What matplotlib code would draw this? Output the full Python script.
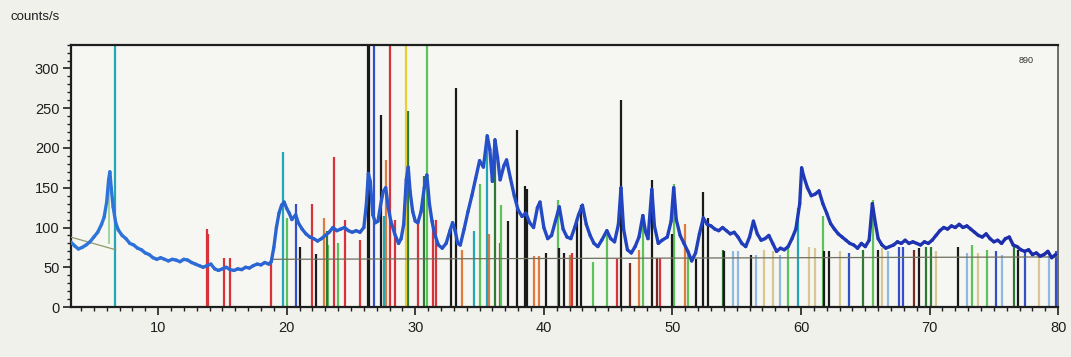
import numpy as np
import matplotlib
matplotlib.use("Agg")
import matplotlib.pyplot as plt
from matplotlib.collections import LineCollection
from matplotlib.colors import LinearSegmentedColormap
from matplotlib.ticker import MultipleLocator

plt.rcParams['font.family'] = ['Liberation Sans', 'DejaVu Sans']

# Measured diffractogram (2theta in degrees, intensity in counts/s)
two_theta = [
    3.2, 3.5, 3.8, 4.1, 4.4, 4.7, 5.0, 5.3, 5.6, 5.8, 6.0, 6.15, 6.25, 6.35, 6.5, 6.7, 6.9,
    7.2, 7.5, 7.8, 8.1, 8.4, 8.7, 9.0, 9.3, 9.6, 9.9, 10.2, 10.5, 10.8, 11.1, 11.4, 11.7,
    12.0, 12.3, 12.6, 12.9, 13.2, 13.5, 13.8, 14.1, 14.4, 14.7, 15.0, 15.3, 15.6, 15.9,
    16.2, 16.5, 16.8, 17.1, 17.4, 17.7, 18.0, 18.3, 18.6, 18.8,
    19.0, 19.2, 19.4, 19.6, 19.8, 20.0, 20.2, 20.4, 20.7, 20.9, 21.2, 21.5, 21.8, 22.1,
    22.4, 22.7, 23.0, 23.3, 23.6, 23.9, 24.2, 24.5, 24.8, 25.1, 25.4, 25.7, 26.0, 26.2,
    26.35, 26.5, 26.7, 26.9, 27.1, 27.3, 27.5, 27.7, 27.9, 28.1, 28.4, 28.7, 28.9, 29.1,
    29.3, 29.45, 29.6, 29.8, 30.0, 30.2, 30.45, 30.7, 30.9, 31.1, 31.3, 31.5, 31.8, 32.1,
    32.4, 32.7, 32.9, 33.1, 33.3, 33.5, 33.8, 34.1, 34.4, 34.7, 35.0, 35.3, 35.6, 35.8,
    36.0, 36.2, 36.4, 36.6, 36.9, 37.1, 37.4, 37.7, 38.0, 38.3, 38.6, 38.9, 39.2, 39.5,
    39.7, 40.0, 40.3, 40.6, 40.9, 41.2, 41.5, 41.8, 42.1, 42.4, 42.7, 43.0, 43.3, 43.6,
    43.9, 44.2, 44.5, 44.9, 45.2, 45.5, 45.8, 46.0, 46.2, 46.5, 46.8, 47.1, 47.4, 47.7,
    47.9, 48.1, 48.4, 48.6, 48.9, 49.2, 49.6, 49.9, 50.1, 50.3, 50.6, 50.9, 51.2, 51.5,
    51.8, 52.1, 52.4, 52.7, 53.0, 53.3, 53.6, 53.9, 54.2, 54.5, 54.8, 55.1, 55.4, 55.7,
    56.0, 56.3, 56.6, 56.9, 57.2, 57.5, 57.8, 58.1, 58.4, 58.7, 59.0, 59.3, 59.6, 59.9,
    60.05, 60.2, 60.5, 60.8, 61.1, 61.4, 61.7, 62.0, 62.3, 62.6, 62.9, 63.2, 63.5, 63.8,
    64.1, 64.4, 64.7, 65.0, 65.3, 65.55, 65.8, 66.0, 66.3, 66.6, 66.9, 67.2, 67.5, 67.8,
    68.1, 68.4, 68.7, 69.0, 69.3, 69.6, 69.9, 70.2, 70.5, 70.8, 71.1, 71.4, 71.7, 72.0,
    72.3, 72.6, 72.9, 73.2, 73.5, 73.8, 74.1, 74.4, 74.7, 75.0, 75.3, 75.6, 75.9, 76.2,
    76.5, 76.8, 77.1, 77.4, 77.7, 78.0, 78.3, 78.6, 78.9, 79.2, 79.5, 79.8,
]
counts = [
    82, 77, 73, 75, 78, 82, 88, 94, 104, 113, 132, 160, 170, 150, 126, 106, 97,
    90, 86, 80, 78, 74, 72, 68, 66, 62, 60, 62, 60, 58, 60, 59, 57,
    60, 59, 56, 54, 52, 50, 52, 54, 48, 46, 48, 50, 47, 46,
    48, 47, 50, 49, 52, 54, 53, 56, 54, 57,
    75, 100, 118, 128, 132, 124, 118, 110, 116, 106, 98, 92, 88, 86,
    83, 86, 90, 94, 100, 96, 98, 100, 96, 94, 96, 94, 100, 130,
    168, 158, 116, 106, 108, 128, 145, 150, 125, 108, 92, 80, 86, 104,
    160, 176, 145, 120, 108, 106, 120, 150, 166, 130, 108, 92, 78, 74,
    80, 96, 106, 96, 80, 78, 98, 120, 140, 162, 184, 176, 215, 198,
    158, 210, 188, 160, 178, 185, 162, 140, 122, 114, 118, 106, 100, 125,
    132, 100, 86, 90, 108, 126, 98, 88, 86, 100, 116, 128, 104, 90,
    80, 76, 84, 96, 86, 82, 104, 150, 98, 72, 68, 76, 88, 115,
    95, 86, 148, 102, 80, 84, 88, 108, 150, 110, 90, 80, 70, 58,
    68, 92, 112, 104, 102, 98, 96, 100, 96, 92, 94, 88, 80, 76,
    88, 108, 92, 84, 86, 90, 80, 70, 74, 72, 76, 86, 98, 130,
    175, 165, 150, 140, 142, 146, 130, 118, 105, 98, 92, 88, 84, 80,
    78, 74, 80, 76, 84, 130, 104, 86, 78, 74, 76, 78, 82, 80,
    84, 80, 82, 80, 78, 82, 80, 84, 90, 96, 100, 98, 102, 100,
    104, 100, 102, 98, 94, 90, 88, 92, 86, 82, 84, 80, 86, 88,
    78, 76, 72, 70, 72, 66, 68, 64, 66, 70, 62, 66,
]

# Fitted background
bg_low_x = [3.2, 6.7]
bg_low_y = [88, 72]
bg_high_x = [18.8, 80.0]
bg_high_y = [60, 63]

# Reference patterns: (positions, relative heights in counts/s)
teal_pos = [6.65, 19.75, 27.6, 34.6, 35.6, 59.8]
teal_h = [330, 195, 115, 95, 218, 125]

red_pos = [13.8, 13.9, 15.1, 15.6, 18.8, 22.0, 23.7, 24.5, 25.7, 28.0, 28.4, 30.2,
           31.4, 31.6, 36.6, 42.2, 45.7, 49.0]
red_h = [98, 92, 62, 62, 56, 130, 189, 110, 84, 330, 110, 106, 110, 110, 80, 68, 60, 62]

orange_pos = [22.9, 27.7, 33.6, 35.7, 39.2, 39.6, 42.0, 47.4, 51.0]
orange_h = [112, 185, 72, 92, 64, 64, 66, 72, 105]

black_pos = [21.0, 22.3, 26.3, 26.4, 27.3, 32.8, 33.2, 37.2, 37.9, 38.5, 38.7, 40.2,
             41.2, 41.6, 42.6, 42.9, 46.0, 48.4, 50.0, 51.8, 52.4, 52.8, 54.0, 56.1,
             61.8, 62.2, 66.0, 69.2, 72.2, 76.9]
black_h = [75, 67, 330, 330, 242, 98, 276, 108, 223, 152, 148, 68,
           74, 68, 112, 128, 260, 160, 92, 60, 145, 112, 70, 65,
           70, 70, 72, 74, 75, 72]

blue_pos = [20.7, 26.8, 63.7, 67.6, 67.9, 75.2, 77.4, 79.8]
blue_h = [130, 330, 68, 75, 75, 70, 68, 70]

green_pos = [20.05, 23.2, 24.0, 30.9, 35.0, 36.7, 41.1, 43.8, 44.9, 47.7, 50.1, 51.2,
             59.0, 61.7, 65.6, 73.3, 74.5]
green_h = [112, 78, 80, 330, 155, 128, 135, 56, 90, 110, 155, 68,
           75, 115, 135, 78, 72]

dkgreen_pos = [23.1, 29.4, 30.7, 36.2, 53.9, 64.8, 69.7, 70.1, 76.6]
dkgreen_h = [96, 246, 165, 212, 72, 72, 76, 76, 78]

yellow_pos = [29.3]
yellow_h = [330]

ltblue_pos = [54.7, 55.1, 56.5, 58.4, 66.8, 72.9, 75.6, 79.3]
ltblue_h = [70, 70, 66, 66, 70, 68, 66, 64]

tan_pos = [57.1, 57.8, 60.6, 61.1, 63.0, 66.3, 70.5, 73.8, 78.5]
tan_h = [72, 70, 76, 74, 70, 74, 70, 68, 66]

brown_pos = [46.7, 48.8, 68.8]
brown_h = [55, 62, 72]

x_ticks = [10, 20, 30, 40, 50, 60, 70, 80]
y_ticks = [0, 50, 100, 150, 200, 250, 300]

paper = '#f1f1ec'
fig = plt.figure(figsize=(10.71, 3.57), dpi=100, facecolor=paper)
ax = fig.add_axes([0.066, 0.140, 0.922, 0.735], facecolor='#f6f6f2')

patterns = [
    (ltblue_pos, ltblue_h, '#8fb8e3'),
    (tan_pos, tan_h, '#d8c693'),
    (orange_pos, orange_h, '#e2793f'),
    (red_pos, red_h, '#d8333a'),
    (teal_pos, teal_h, '#23a6b5'),
    (green_pos, green_h, '#5cc25a'),
    (dkgreen_pos, dkgreen_h, '#2e7a34'),
    (yellow_pos, yellow_h, '#e6cf36'),
    (blue_pos, blue_h, '#3350c8'),
    (brown_pos, brown_h, '#7a2a22'),
    (black_pos, black_h, '#1a1a1a'),
]
for pos, h, col in patterns:
    ax.vlines(pos, 0, h, colors=col, linewidth=1.6, zorder=2)

ax.plot(bg_low_x, bg_low_y, color='#8c9a6a', linewidth=0.9, zorder=3)
ax.plot(bg_high_x, bg_high_y, color='#6f6f5f', linewidth=0.9, zorder=3)
ax.plot([6.2, 6.2], [80, 168], color='#8ed08a', linewidth=1.2, zorder=3)

# Measured scan, shaded from lighter to darker blue along 2theta
xs = np.asarray(two_theta, dtype=float)
ys = np.asarray(counts, dtype=float)
pts = np.column_stack([xs, ys]).reshape(-1, 1, 2)
segs = np.concatenate([pts[:-1], pts[1:]], axis=1)
cmap = LinearSegmentedColormap.from_list('scan', ['#2f78dc', '#2348c4', '#1b2aa8'])
lc = LineCollection(segs, cmap=cmap, norm=plt.Normalize(3, 80), linewidth=2.4,
                    zorder=4, capstyle='round', joinstyle='round')
lc.set_array(0.5 * (xs[:-1] + xs[1:]))
ax.add_collection(lc)

ax.set_xlim(3.2, 80)
ax.set_ylim(0, 330)
ax.set_xticks(x_ticks)
ax.set_yticks(y_ticks)
ax.xaxis.set_minor_locator(MultipleLocator(1))
ax.yaxis.set_minor_locator(MultipleLocator(10))
ax.tick_params(axis='both', which='major', direction='out', length=6, width=1.2,
               labelsize=10.5, colors='#1e1e1e', pad=2)
ax.tick_params(axis='both', which='minor', direction='out', length=3, width=1.0,
               colors='#1e1e1e')
ax.tick_params(axis='x', which='major', pad=4)
for side in ['left', 'bottom', 'top']:
    ax.spines[side].set_linewidth(1.6)
    ax.spines[side].set_color('#1e1e1e')
ax.spines['right'].set_linewidth(1.2)
ax.spines['right'].set_color('#555555')

fig.text(0.010, 0.935, 'counts/s', fontsize=9.5, color='#1e1e1e', ha='left', va='bottom')
ax.text(0.975, 0.955, '890', transform=ax.transAxes, fontsize=6.5, color='#333333',
        ha='right', va='top')

fig.savefig('out.png', dpi=100, facecolor=paper)
